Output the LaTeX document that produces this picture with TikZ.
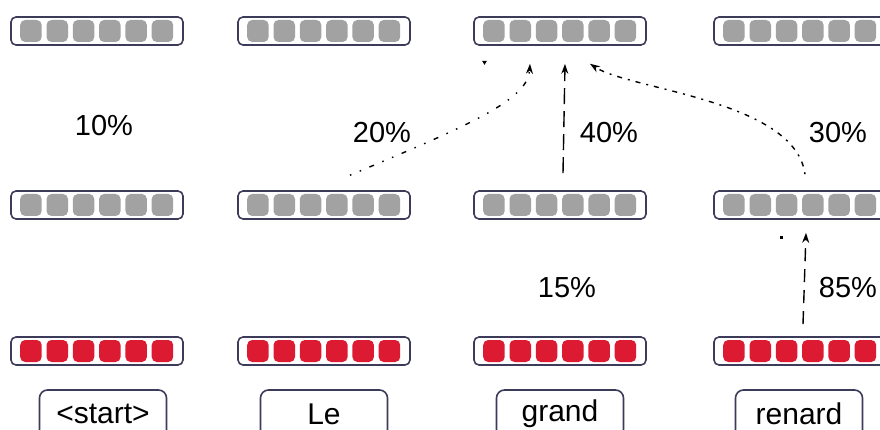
\documentclass[tikz,border=0pt]{standalone}
\usepackage{fontspec}
\setmainfont{Liberation Sans}
\usetikzlibrary{arrows.meta}

\definecolor{framecol}{HTML}{3C3C5A}
\definecolor{hiddencol}{HTML}{A2A2A2}
\definecolor{outcol}{HTML}{DC1A32}

\tikzset{
  x=1pt, y=-1pt,
  bar/.style={draw=framecol, line width=1.6pt, rounded corners=5pt,
    minimum width=172pt, minimum height=28pt, inner sep=0pt},
  word/.style={draw=framecol, line width=1.6pt, rounded corners=8pt,
    minimum width=127pt, minimum height=48pt, inner sep=0pt,
    font=\fontsize{30}{34}\selectfont},
  pct/.style={inner sep=0pt, font=\fontsize{29}{33}\selectfont},
  link/.style={line width=1.4pt, -{Stealth[length=10pt,width=7pt]}},
}

% one row of six units inside a rounded frame
\newcommand\tokenbar[4]{% name, centre x, centre y, unit colour
  \node[bar] (#1) at (#2,#3) {};
  \foreach \k in {0,...,5}
    \fill[#4, rounded corners=5pt]
      ([xshift=10pt+\k*26.3pt, yshift=-11pt]#1.west) rectangle ++(21.5pt,22pt);
}

\begin{document}
\begin{tikzpicture}
\useasboundingbox (0,0) rectangle (880,430);

% hidden layers
\tokenbar{t1}{97}{31}{hiddencol}
\tokenbar{t2}{324}{31}{hiddencol}
\tokenbar{t3}{560}{31}{hiddencol}
\tokenbar{t4}{800}{31}{hiddencol}
\tokenbar{m1}{97}{205}{hiddencol}
\tokenbar{m2}{324}{205}{hiddencol}
\tokenbar{m3}{560}{205}{hiddencol}
\tokenbar{m4}{800}{205}{hiddencol}
% embedding layer
\tokenbar{b1}{97}{351}{outcol}
\tokenbar{b2}{324}{351}{outcol}
\tokenbar{b3}{560}{351}{outcol}
\tokenbar{b4}{800}{351}{outcol}

% input words
\node[word] (w1) at (103,414) {<start>};
\node[word] (w2) at (324,414) {Le};
\node[word] (w3) at (560,414) {grand};
\node[word] (w4) at (799,414) {renard};

% attention weights
\node[pct] (p1) at (104,126) {10\%};
\node[pct] (p2) at (382,133) {20\%};
\node[pct] (p3) at (609,133) {40\%};
\node[pct] (p4) at (838,133) {30\%};
\node[pct] (p5) at (567,288) {15\%};
\node[pct] (p6) at (848,288) {85\%};

% connector end points
\coordinate (s2) at ([xshift=26pt, yshift=15pt]m2.north);
\coordinate (s3) at ([xshift=3pt, yshift=17pt]m3.north);
\coordinate (s4) at ([xshift=5pt, yshift=16pt]m4.north);
\coordinate (s5) at ([xshift=3pt, yshift=12pt]b4.north);
\coordinate (e2) at ([xshift=-30pt, yshift=-18pt]t3.south);
\coordinate (e3) at ([xshift=5pt, yshift=-18pt]t3.south);
\coordinate (e4) at ([xshift=30pt, yshift=-18pt]t3.south);
\coordinate (e5) at ([xshift=6pt, yshift=-13pt]m4.south);

% attention links
\draw[link, dash pattern=on 1.5pt off 9pt on 1.5pt off 9pt on 5pt off 9pt]
  (s2) .. controls (470,125) and (528,100) .. (e2);
\draw[link, dash pattern=on 16pt off 7pt] (s3) -- (e3);
\draw[link, dash pattern=on 2pt off 6pt on 5pt off 6pt]
  (s4) .. controls (795,100) and (630,90) .. (e4);
\draw[link, dash pattern=on 13pt off 8pt] (s5) -- (e5);

% small ink marks
\fill ([xshift=-78pt, yshift=-15pt]t3.south) -- ++(5pt,0) -- ++(-2.5pt,-4pt) -- cycle;
\fill ([xshift=-20pt, yshift=-16pt]m4.south) rectangle ++(3pt,-3pt);
\end{tikzpicture}
\end{document}
